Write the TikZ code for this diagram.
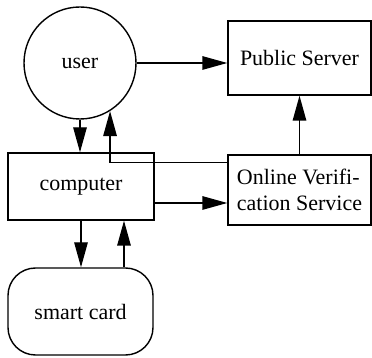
\documentclass[tikz,border=0pt]{standalone}
\usepackage{fontspec}
\setmainfont{Liberation Serif}
\usetikzlibrary{arrows.meta,positioning,calc}
\tikzset{
  blockbox/.style={draw=black, line width=0.8pt, align=center,
                   font=\fontsize{12.5}{15}\selectfont, inner sep=2pt},
  arrow/.style={-{Triangle[length=0.5cm,width=0.27cm]}, line width=0.8pt, black},
}

\begin{document}
\begin{tikzpicture}
  \tikzset{
    userball/.style={blockbox, circle, minimum size=2.24cm},
    hostbox/.style={blockbox, minimum width=2.86cm},
    cardbox/.style={blockbox, rounded corners=0.55cm, minimum width=2.9cm,
                    minimum height=1.74cm},
  }
  \useasboundingbox (0,0) rectangle (7.44,7.16);

  \node[userball] (user) at (1.6,5.9) {user};
  \node[hostbox, minimum height=1.48cm] (ps) at (5.99,6.0) {Public Server};
  \node[hostbox, minimum width=2.92cm, minimum height=1.34cm] (comp) at (1.62,3.43) {computer};
  \node[hostbox, minimum height=1.4cm, align=left] (ovs) at (5.99,3.36)
        {Online Verifi-\\cation Service};
  \node[cardbox] (card) at (1.61,0.93) {smart card};

  \coordinate (c2o) at ([yshift=-0.33cm]comp.east);
  \coordinate (k2c) at ([xshift=0.87cm]card.north);

  \draw[arrow] (user.east) -- (user.east -| ps.west);
  \draw[arrow] (user.south) -- (user.south |- comp.north);
  % reply path runs back over the computer box up to the user
  \draw[arrow] ([yshift=-0.16cm]ovs.north west) -| (user.-58);
  \draw[arrow] (c2o) -- (c2o -| ovs.west);
  \draw[arrow] (ovs.north) -- (ps.south);
  \draw[arrow] (comp.south) -- (comp.south |- card.north);
  \draw[arrow] (k2c) -- (k2c |- comp.south);
\end{tikzpicture}
\end{document}
